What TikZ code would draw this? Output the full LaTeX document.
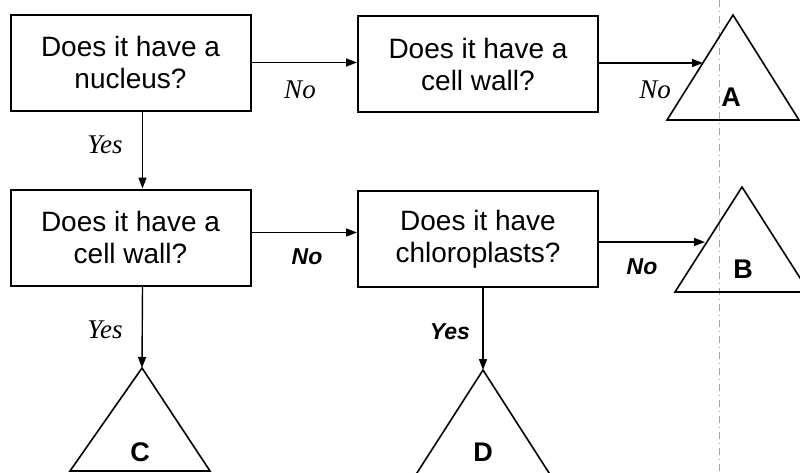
\documentclass[tikz,border=0pt]{standalone}
\usepackage{fontspec}
\setmainfont{Liberation Serif}
\setsansfont{Liberation Sans}
\usetikzlibrary{arrows.meta,calc}
\begin{document}
\begin{tikzpicture}[x=1pt,y=-1pt,
  qbox/.style={draw,line width=2pt,rectangle,minimum width=240pt,minimum height=96pt,
    align=center,inner sep=0pt,font=\sffamily\fontsize{28}{32}\selectfont},
  conn/.style={line width=1.4pt,-{Triangle[length=11pt,width=8pt]}},
  tri/.style={line width=1.6pt,line join=miter},
  lserif/.style={font=\rmfamily\itshape\fontsize{27}{30}\selectfont},
  lsans/.style={font=\sffamily\itshape\bfseries\fontsize{23}{26}\selectfont},
  tlabel/.style={font=\sffamily\bfseries\fontsize{27}{30}\selectfont},
  guide/.style={gray!70,line width=0.6pt,dash pattern=on 7pt off 4pt on 1pt off 4pt}]
\useasboundingbox (0,0) rectangle (800,472);
\clip (0,0) rectangle (800,472);
% faint guide line
\coordinate (gtop) at (719,0);
\coordinate (gbot) at (719,472);
\draw[guide] (gtop) -- (gbot);
% boxes
\node[qbox] (b1) at (130.5,62.5) {Does it have a\\nucleus?};
\node[qbox] (b2) at (478,64) {Does it have a\\cell wall?};
\node[qbox] (b3) at (130.5,237.5) {Does it have a\\cell wall?};
\node[qbox] (b4) at (478,239) {Does it have\\chloroplasts?};
% triangles
\coordinate (Atop) at (733,15);
\coordinate (Al) at (667,120);
\coordinate (Ar) at (799,120);
\draw[tri] (Atop) -- (Al) -- (Ar) -- cycle;
\coordinate (Btop) at (742,187);
\coordinate (Bl) at (675,292);
\coordinate (Br) at (809,292);
\draw[tri] (Btop) -- (Bl) -- (Br) -- cycle;
\coordinate (Ctop) at (142,368);
\coordinate (Cl) at (70,471);
\coordinate (Cr) at (210,471);
\draw[tri] (Ctop) -- (Cl) -- (Cr) -- cycle;
\coordinate (Dtop) at (483,370);
\coordinate (Dl) at (415,476);
\coordinate (Dr) at (551,476);
\draw[tri] (Dtop) -- (Dl) -- (Dr) -- cycle;
\node[tlabel] (la) at (731,97) {A};
\node[tlabel] (lb) at (743,269) {B};
\node[tlabel] (lc) at (140,452) {C};
\node[tlabel] (ld) at (483,452) {D};
% entry points on triangle edges
\coordinate (Ain) at (703,63);
\coordinate (Bin) at (705,242);
% connectors
\draw[conn] (b1.east) -- (b1.east -| b2.west);
\draw[conn] ([xshift=12pt]b1.south) -- ([xshift=12pt]b3.north);
\draw[conn] (b2.east |- Ain) -- (Ain);
\draw[conn] ([yshift=5pt]b3.east) -- ([yshift=5pt]b3.east -| b4.west);
\draw[conn] ([xshift=12pt]b3.south) -- (Ctop);
\draw[conn] (b4.east |- Bin) -- (Bin);
\draw[conn] ([xshift=5pt]b4.south) -- (Dtop);
% labels
\node[lserif] (n1) at (300,90) {No};
\node[lserif] (y1) at (105,145) {Yes};
\node[lserif] (n2) at (655,90) {No};
\node[lsans] (n3) at (307,257) {No};
\node[lserif] (y2) at (105,330) {Yes};
\node[lsans] (y3) at (450,332) {Yes};
\node[lsans] (n4) at (642,267) {No};
\end{tikzpicture}
\end{document}
